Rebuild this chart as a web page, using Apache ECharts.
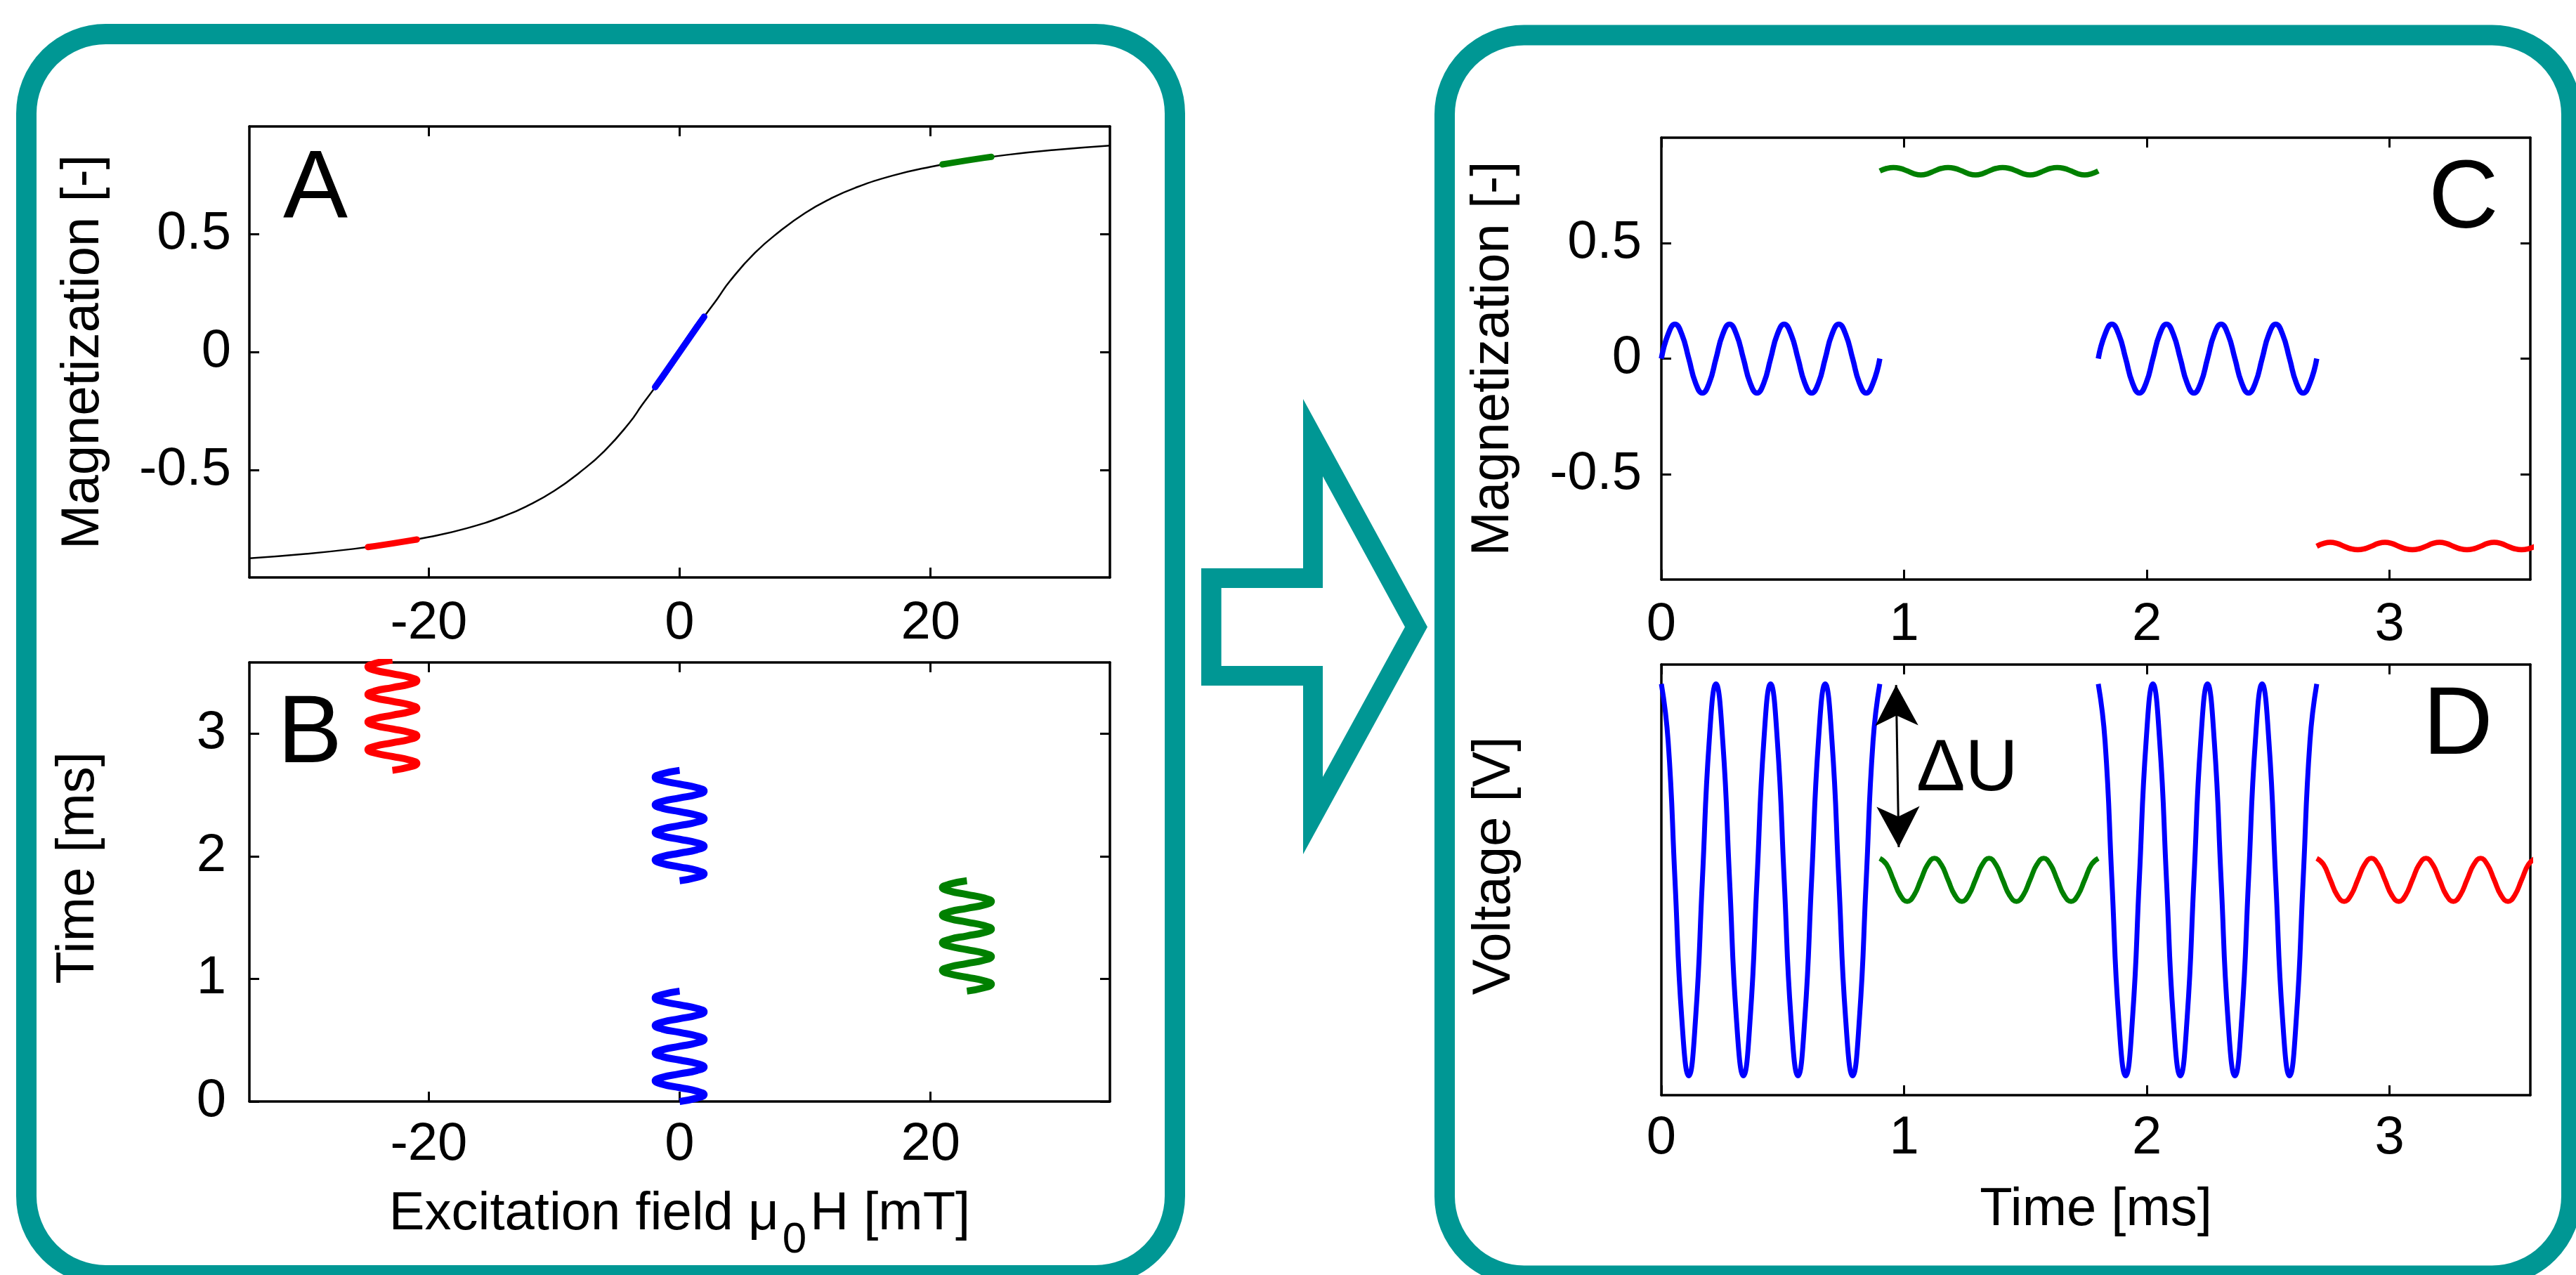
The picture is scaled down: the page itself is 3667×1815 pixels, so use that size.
<!DOCTYPE html>
<html>
<head>
<meta charset="utf-8">
<title>Magnetization, excitation field and induced voltage</title>
<script src="https://cdn.jsdelivr.net/npm/echarts@6/dist/echarts.min.js"></script>
<style>
  html, body { margin: 0; padding: 0; background: #fff; }
  #chart { width: 3667px; height: 1815px; }
</style>
</head>
<body>
<div id="chart"></div>
<script>
// ---- data ----
// axis ranges and ticks
const hRange = [-34.3, 34.3];       // excitation field [mT]
const mRange = [-0.956, 0.956];     // magnetization [-]
const tRange = [0, 3.58];           // time [ms]
const uRange = [-1, 1];             // voltage (arbitrary)
const hTicks = [-20, 0, 20];
const mTicks = [-0.5, 0, 0.5];
const tTicks = [0, 1, 2, 3];

// panel A: magnetization curve M(H)
const curveH = [-34.3, -30, -26, -23, -20, -17, -14, -12, -10, -8, -6, -4, -3, -2, -1, 0,
                1, 2, 3, 4, 6, 8, 10, 12, 14, 17, 20, 23, 26, 30, 34.3];
const curveM = [-0.875, -0.857, -0.835, -0.813, -0.785, -0.748, -0.696, -0.649, -0.589, -0.512, -0.42, -0.3, -0.225, -0.153, -0.077, 0,
                0.077, 0.153, 0.225, 0.3, 0.42, 0.512, 0.589, 0.649, 0.696, 0.748, 0.785, 0.813, 0.835, 0.857, 0.875];

// time samples of the four excitation intervals [ms]
const tBlue1 = [0, 0.028, 0.056, 0.084, 0.113, 0.141, 0.169, 0.197, 0.225, 0.253, 0.281, 0.309, 0.338, 0.366, 0.394, 0.422, 0.45,
                0.478, 0.506, 0.534, 0.563, 0.591, 0.619, 0.647, 0.675, 0.703, 0.731, 0.759, 0.788, 0.816, 0.844, 0.872, 0.9];
const tGreen = [0.9, 0.928, 0.956, 0.984, 1.013, 1.041, 1.069, 1.097, 1.125, 1.153, 1.181, 1.209, 1.238, 1.266, 1.294, 1.322, 1.35,
                1.378, 1.406, 1.434, 1.463, 1.491, 1.519, 1.547, 1.575, 1.603, 1.631, 1.659, 1.688, 1.716, 1.744, 1.772, 1.8];
const tBlue2 = [1.8, 1.828, 1.856, 1.884, 1.913, 1.941, 1.969, 1.997, 2.025, 2.053, 2.081, 2.109, 2.138, 2.166, 2.194, 2.222, 2.25,
                2.278, 2.306, 2.334, 2.363, 2.391, 2.419, 2.447, 2.475, 2.503, 2.531, 2.559, 2.588, 2.616, 2.644, 2.672, 2.7];
const tRed   = [2.7, 2.728, 2.756, 2.784, 2.813, 2.841, 2.869, 2.897, 2.925, 2.953, 2.981, 3.009, 3.038, 3.066, 3.094, 3.122, 3.15,
                3.178, 3.206, 3.234, 3.263, 3.291, 3.319, 3.347, 3.375, 3.403, 3.431, 3.459, 3.488, 3.516, 3.544, 3.572, 3.6];

// panel B: excitation field [mT]
const hBlue1 = [0, 1.38, 1.95, 1.38, 0, -1.38, -1.95, -1.38, 0, 1.38, 1.95, 1.38, 0, -1.38, -1.95, -1.38, 0,
                1.38, 1.95, 1.38, 0, -1.38, -1.95, -1.38, 0, 1.38, 1.95, 1.38, 0, -1.38, -1.95, -1.38, 0];
const hGreen = [22.9, 24.28, 24.85, 24.28, 22.9, 21.52, 20.95, 21.52, 22.9, 24.28, 24.85, 24.28, 22.9, 21.52, 20.95, 21.52, 22.9,
                24.28, 24.85, 24.28, 22.9, 21.52, 20.95, 21.52, 22.9, 24.28, 24.85, 24.28, 22.9, 21.52, 20.95, 21.52, 22.9];
const hBlue2 = [0, 1.38, 1.95, 1.38, 0, -1.38, -1.95, -1.38, 0, 1.38, 1.95, 1.38, 0, -1.38, -1.95, -1.38, 0,
                1.38, 1.95, 1.38, 0, -1.38, -1.95, -1.38, 0, 1.38, 1.95, 1.38, 0, -1.38, -1.95, -1.38, 0];
const hRed   = [-22.9, -21.52, -20.95, -21.52, -22.9, -24.28, -24.85, -24.28, -22.9, -21.52, -20.95, -21.52, -22.9, -24.28, -24.85, -24.28, -22.9,
                -21.52, -20.95, -21.52, -22.9, -24.28, -24.85, -24.28, -22.9, -21.52, -20.95, -21.52, -22.9, -24.28, -24.85, -24.28, -22.9];

// panel C: magnetization [-]
const mBlue1 = [0, 0.106, 0.149, 0.106, 0, -0.106, -0.149, -0.106, 0, 0.106, 0.149, 0.106, 0, -0.106, -0.149, -0.106, 0,
                0.106, 0.149, 0.106, 0, -0.106, -0.149, -0.106, 0, 0.106, 0.149, 0.106, 0, -0.106, -0.149, -0.106, 0];
const mGreen = [0.812, 0.823, 0.827, 0.823, 0.812, 0.8, 0.795, 0.8, 0.812, 0.823, 0.827, 0.823, 0.812, 0.8, 0.795, 0.8, 0.812,
                0.823, 0.827, 0.823, 0.812, 0.8, 0.795, 0.8, 0.812, 0.823, 0.827, 0.823, 0.812, 0.8, 0.795, 0.8, 0.812];
const mBlue2 = [0, 0.106, 0.149, 0.106, 0, -0.106, -0.149, -0.106, 0, 0.106, 0.149, 0.106, 0, -0.106, -0.149, -0.106, 0,
                0.106, 0.149, 0.106, 0, -0.106, -0.149, -0.106, 0, 0.106, 0.149, 0.106, 0, -0.106, -0.149, -0.106, 0];
const mRed   = [-0.812, -0.8, -0.795, -0.8, -0.812, -0.823, -0.827, -0.823, -0.812, -0.8, -0.795, -0.8, -0.812, -0.823, -0.827, -0.823, -0.812,
                -0.8, -0.795, -0.8, -0.812, -0.823, -0.827, -0.823, -0.812, -0.8, -0.795, -0.8, -0.812, -0.823, -0.827, -0.823, -0.812];

// panel D: induced voltage (arbitrary units)
const uBlue1 = [0.91, 0.643, 0, -0.643, -0.91, -0.643, 0, 0.643, 0.91, 0.643, 0, -0.643, -0.91, -0.643, 0, 0.643, 0.91,
                0.643, 0, -0.643, -0.91, -0.643, 0, 0.643, 0.91, 0.643, 0, -0.643, -0.91, -0.643, 0, 0.643, 0.91];
const uGreen = [0.1, 0.071, 0, -0.071, -0.1, -0.071, 0, 0.071, 0.1, 0.071, 0, -0.071, -0.1, -0.071, 0, 0.071, 0.1,
                0.071, 0, -0.071, -0.1, -0.071, 0, 0.071, 0.1, 0.071, 0, -0.071, -0.1, -0.071, 0, 0.071, 0.1];
const uBlue2 = [0.91, 0.643, 0, -0.643, -0.91, -0.643, 0, 0.643, 0.91, 0.643, 0, -0.643, -0.91, -0.643, 0, 0.643, 0.91,
                0.643, 0, -0.643, -0.91, -0.643, 0, 0.643, 0.91, 0.643, 0, -0.643, -0.91, -0.643, 0, 0.643, 0.91];
const uRed   = [0.1, 0.071, 0, -0.071, -0.1, -0.071, 0, 0.071, 0.1, 0.071, 0, -0.071, -0.1, -0.071, 0, 0.071, 0.1,
                0.071, 0, -0.071, -0.1, -0.071, 0, 0.071, 0.1, 0.071, 0, -0.071, -0.1, -0.071, 0, 0.071, 0.1];

// delta U arrow in panel D (time, voltage)
const deltaUArrow = [[0.967, 0.905], [0.978, 0.152]];

// ---- chart ----
const FONT = 'Liberation Sans';
const TEAL = '#009794';
const BLUE = '#0000ff', GREEN = '#008000', RED = '#ff0000';

const chart = echarts.init(document.getElementById('chart'));
const zip = (a, b) => a.map((v, i) => [v, b[i]]);

function axis(grid, range, ticks, position, labelMargin, extra) {
  return Object.assign({
    type: 'value',
    gridIndex: grid,
    position: position,
    min: range[0],
    max: range[1],
    axisLine: {show: true, onZero: false, lineStyle: {color: '#000', width: 3.5}},
    axisTick: {show: ticks.length > 0, inside: true, length: 14, customValues: ticks,
               lineStyle: {color: '#000', width: 3}},
    axisLabel: {show: labelMargin != null, customValues: ticks, margin: labelMargin || 0,
                color: '#000', fontFamily: FONT, fontSize: 76, lineHeight: 76},
    splitLine: {show: false}
  }, extra || {});
}

const nameStyle = {fontFamily: FONT, fontSize: 76, color: '#000', lineHeight: 92};

function wave(color, width, xi, yi, data, smooth, extra) {
  return Object.assign({
    type: 'line', xAxisIndex: xi, yAxisIndex: yi, data: data,
    smooth: smooth, showSymbol: false, symbol: 'none', clip: true,
    lineStyle: {color: color, width: width, cap: 'butt', join: 'round'},
    itemStyle: {color: color}, emphasis: {disabled: true}, z: 3
  }, extra || {});
}

function letter(text, x, y) {
  return {type: 'text', x: x, y: y, z: 10,
          style: {text: text, fontFamily: FONT, fontSize: 138, fill: '#000',
                  align: 'left', verticalAlign: 'middle'}};
}

const option = {
  animation: false,
  backgroundColor: '#fff',
  textStyle: {fontFamily: FONT},
  grid: [
    {left: 355, top: 180, width: 1225, height: 642},
    {left: 355, top: 943, width: 1225, height: 625},
    {left: 2365, top: 196, width: 1237, height: 629},
    {left: 2365, top: 946, width: 1237, height: 613}
  ],
  xAxis: [
    axis(0, hRange, hTicks, 'bottom', 28),
    axis(0, hRange, hTicks, 'top'),
    axis(1, hRange, hTicks, 'bottom', 24, {
      name: '{a|Excitation field \u03bc}{s|0}{a|H [mT]}',
      nameLocation: 'middle', nameGap: 123,
      nameTextStyle: {rich: {
        a: {fontFamily: FONT, fontSize: 76, lineHeight: 92, color: '#000', verticalAlign: 'top'},
        s: {fontFamily: FONT, fontSize: 62, lineHeight: 92, color: '#000', verticalAlign: 'top',
            padding: [44, 5, 0, 5]}
      }}
    }),
    axis(1, hRange, hTicks, 'top'),
    axis(2, tRange, tTicks, 'bottom', 27),
    axis(2, tRange, tTicks, 'top'),
    axis(3, tRange, tTicks, 'bottom', 24, {
      name: 'Time [ms]', nameLocation: 'middle', nameGap: 118, nameTextStyle: nameStyle
    }),
    axis(3, tRange, tTicks, 'top')
  ],
  yAxis: [
    axis(0, mRange, mTicks, 'left', 26, {
      name: 'Magnetization [-]', nameLocation: 'middle', nameGap: 190, nameTextStyle: nameStyle
    }),
    axis(0, mRange, mTicks, 'right'),
    axis(1, tRange, tTicks, 'left', 33, {
      name: 'Time [ms]', nameLocation: 'middle', nameGap: 197,
      nameTextStyle: Object.assign({padding: [0, 0, 0, 40]}, nameStyle)
    }),
    axis(1, tRange, tTicks, 'right'),
    axis(2, mRange, mTicks, 'left', 28, {
      name: 'Magnetization [-]', nameLocation: 'middle', nameGap: 193, nameTextStyle: nameStyle
    }),
    axis(2, mRange, mTicks, 'right'),
    axis(3, uRange, [], 'left', null, {
      name: 'Voltage [V]', nameLocation: 'middle', nameGap: 191,
      nameTextStyle: Object.assign({padding: [0, 0, 0, 40]}, nameStyle)
    }),
    axis(3, uRange, [], 'right')
  ],
  series: [
    // A: magnetization curve with the operating ranges highlighted
    wave('#000', 2.5, 0, 0, zip(curveH, curveM), true, {z: 2}),
    wave(RED, 9, 0, 0, zip(hRed, mRed), false),
    wave(GREEN, 9, 0, 0, zip(hGreen, mGreen), false),
    wave(BLUE, 9, 0, 0, zip(hBlue1, mBlue1), false),
    wave(BLUE, 9, 0, 0, zip(hBlue2, mBlue2), false),
    // B: excitation field over time
    wave(BLUE, 10, 2, 2, zip(hBlue1, tBlue1), true),
    wave(GREEN, 10, 2, 2, zip(hGreen, tGreen), true),
    wave(BLUE, 10, 2, 2, zip(hBlue2, tBlue2), true),
    wave(RED, 10, 2, 2, zip(hRed, tRed), true),
    // C: magnetization over time
    wave(BLUE, 7.5, 4, 4, zip(tBlue1, mBlue1), true),
    wave(GREEN, 7.5, 4, 4, zip(tGreen, mGreen), true),
    wave(BLUE, 7.5, 4, 4, zip(tBlue2, mBlue2), true),
    wave(RED, 7.5, 4, 4, zip(tRed, mRed), true),
    // D: induced voltage over time
    wave(BLUE, 7, 6, 6, zip(tBlue1, uBlue1), true, {
      markLine: {
        silent: true, animation: false,
        symbol: ['arrow', 'arrow'], symbolSize: [46, 58],
        label: {show: false},
        lineStyle: {color: '#000', width: 3, type: 'solid'},
        emphasis: {disabled: true},
        data: [[{coord: deltaUArrow[0]}, {coord: deltaUArrow[1]}]]
      }
    }),
    wave(GREEN, 7, 6, 6, zip(tGreen, uGreen), true),
    wave(BLUE, 7, 6, 6, zip(tBlue2, uBlue2), true),
    wave(RED, 7, 6, 6, zip(tRed, uRed), true)
  ],
  graphic: [
    // rounded teal frames
    {type: 'rect', z: -10, shape: {x: 37.5, y: 48.5, width: 1635, height: 1767, r: 113},
     style: {fill: 'none', stroke: TEAL, lineWidth: 29}},
    {type: 'rect', z: -10, shape: {x: 2056.5, y: 50, width: 1604, height: 1766, r: 113},
     style: {fill: 'none', stroke: TEAL, lineWidth: 29}},
    // hollow arrow between the frames
    {type: 'polygon', z: -10, shape: {points: [[1710, 809], [1855, 809], [1855, 568], [2032, 892.6],
                                                [1855, 1216], [1855, 976], [1710, 976]]},
     style: {fill: TEAL}},
    {type: 'polygon', z: -9, shape: {points: [[1738.6, 837], [1883, 837], [1883, 678], [2000, 892.6],
                                               [1883, 1106], [1883, 948], [1738.6, 948]]},
     style: {fill: '#fff'}},
    // panel letters
    letter('A', 403, 272),
    letter('B', 395, 1047),
    letter('C', 3457, 286),
    letter('D', 3449, 1035),
    {type: 'text', x: 2728, y: 1096, z: 10,
     style: {text: '\u0394U', fontFamily: FONT, fontSize: 104, fill: '#000',
             align: 'left', verticalAlign: 'middle'}}
  ]
};

chart.setOption(option);
</script>
</body>
</html>
